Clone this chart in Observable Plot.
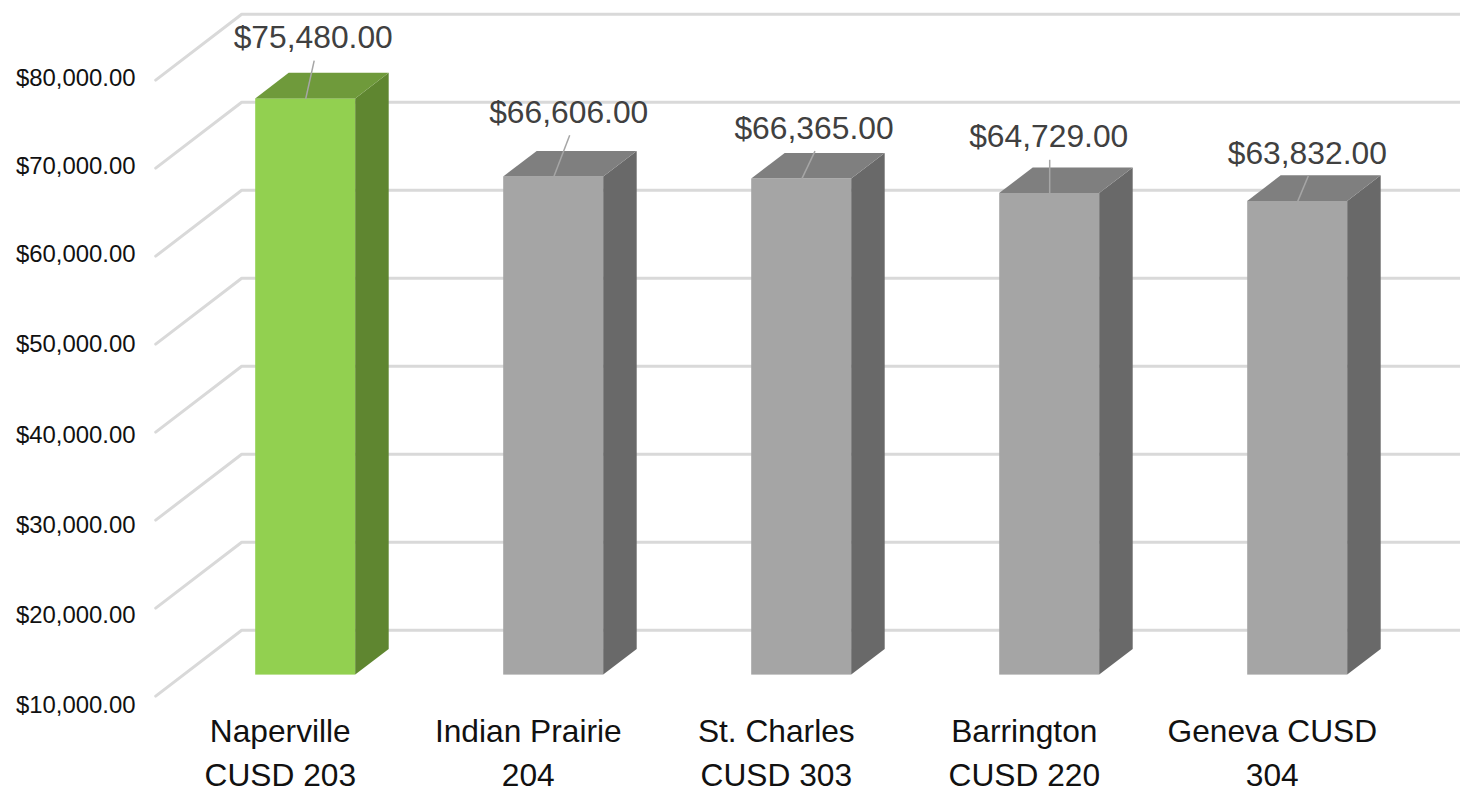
<!DOCTYPE html>
<html>
<head>
<meta charset="utf-8">
<style>
html,body{margin:0;padding:0;background:#fff;}
svg{display:block;}
</style>
<script src="https://cdn.jsdelivr.net/npm/d3@7"></script>
<script src="https://cdn.jsdelivr.net/npm/@observablehq/plot@0.6"></script>
</head>
<body>
<div id="chart"></div>
<script>
// Data
const categories = ["Naperville\nCUSD 203", "Indian Prairie\n204", "St. Charles\nCUSD 303", "Barrington\nCUSD 220", "Geneva CUSD\n304"];
const values = [75480, 66606, 66365, 64729, 63832];
const yTicks = [10000, 20000, 30000, 40000, 50000, 60000, 70000, 80000];
const highlighted = ["Naperville\nCUSD 203"];

// Layout: the oblique projection of the 3-D chart, in scale units
const barHalf = 50 / 248;        // half bar width (categories)
const barDepthX = 33.5 / 248;    // bar depth, sideways (categories)
const barDepthY = 2900;          // bar depth, upward (dollars)
const wallFrontX = -150 / 248;   // front end of the side wall (categories)
const wallFrontY = -2390;        // front end of the side wall (dollars)
const wallBackX = -64 / 248;     // back corner of the walls (categories)
const wallBackY = 5090;          // back corner of the walls (dollars)
const wallRightX = 1155 / 248;   // right end of the back wall (categories)
const leaderRun = [8.5, 16, 13.3, 0, 10.6].map(d => d / 248);
const leaderRise = [38.3, 41.7, 28, 33.7, 25.3].map(d => d / 0.0088);
const tickNudge = [30.6, 28.6, 25.8, 23.8, 21.2, 19, 19.4, 19.6];

// Colours
const faces = {
  grey: {front: "#a5a5a5", top: "#7f7f7f", side: "#696969"},
  green: {front: "#92d050", top: "#6f9a3b", side: "#5f8630"}
};

const bars = categories.map((name, i) => ({
  name, i, value: values[i],
  face: faces[highlighted.includes(name) ? "green" : "grey"]
}));

const gridPoints = yTicks.flatMap(t => [
  {t, x: wallFrontX, y: t + wallFrontY},
  {t, x: wallBackX, y: t + wallBackY},
  {t, x: wallRightX, y: t + wallBackY}
]);

const sidePoints = bars.flatMap(b => [
  {b, x: b.i + barHalf, y1: 10000, y2: b.value},
  {b, x: b.i + barHalf + barDepthX, y1: 10000 + barDepthY, y2: b.value + barDepthY}
]);
const topPoints = bars.flatMap(b => [
  {b, y: b.value, x1: b.i - barHalf, x2: b.i + barHalf},
  {b, y: b.value + barDepthY, x1: b.i - barHalf + barDepthX, x2: b.i + barHalf + barDepthX}
]);

const font = "'Liberation Sans', Arial, sans-serif";

const chart = Plot.plot({
  width: 1460,
  height: 790,
  marginLeft: 138,
  marginBottom: 79,
  marginTop: 0,
  marginRight: 0,
  style: {fontFamily: font, background: "#fff"},
  x: {type: "linear", domain: [0, 4], range: [305.2, 1297.2]},
  y: {type: "linear", domain: [10000, 80000], range: [674.6, 58.6]},
  marks: [
    Plot.line(gridPoints, {x: "x", y: "y", z: "t", stroke: "#d9d9d9", strokeWidth: 3, strokeLinejoin: "miter", curve: "linear"}),
    ...yTicks.map((t, k) => Plot.axisY([t], {
      anchor: "left", tickSize: 0, tickPadding: 3, label: null, line: false,
      tickFormat: d3.format("$,.2f"), fontSize: 23.9, fill: "#111",
      fontVariant: "normal", dy: tickNudge[k]
    })),
    Plot.axisX(bars.map(b => b.i), {
      anchor: "bottom", tickSize: 0, tickPadding: 0, label: null, line: false,
      tickFormat: i => categories[i], fontSize: 31.7, lineHeight: 1.377,
      fill: "#111", fontVariant: "normal", dx: -25.4
    }),
    Plot.rect(bars, {
      x1: b => b.i - barHalf, x2: b => b.i + barHalf,
      y1: 10000, y2: "value", fill: b => b.face.front
    }),
    Plot.areaY(sidePoints, {
      x: "x", y1: "y1", y2: "y2", z: d => d.b.i, fill: d => d.b.face.side
    }),
    Plot.areaX(topPoints, {
      y: "y", x1: "x1", x2: "x2", z: d => d.b.i, fill: d => d.b.face.top
    }),
    Plot.link(bars, {
      x1: "i", y1: "value",
      x2: b => b.i + leaderRun[b.i], y2: b => b.value + leaderRise[b.i],
      stroke: "#a6a6a6", strokeWidth: 1.5
    }),
    Plot.text(bars, {
      x: b => b.i + leaderRun[b.i], y: b => b.value + leaderRise[b.i],
      text: b => d3.format("$,.2f")(b.value),
      dx: -1, dy: -12.5, lineAnchor: "bottom", fontSize: 31.8, fill: "#404040"
    })
  ]
});
document.getElementById("chart").append(chart);
</script>
</body>
</html>
